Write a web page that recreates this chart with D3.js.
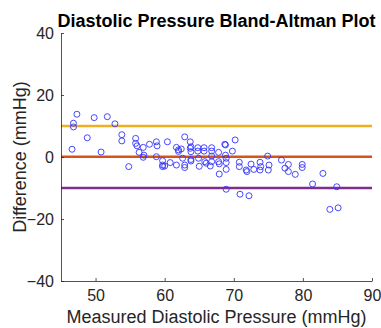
<!DOCTYPE html>
<html><head><meta charset="utf-8">
<script src="https://cdn.jsdelivr.net/npm/d3@7"></script>
<style>body{margin:0;background:#fff;}svg{display:block;font-family:"Liberation Sans",Arial,sans-serif;}</style>
</head><body>
<script>
const title = "Diastolic Pressure Bland-Altman Plot";
const xLabel = "Measured Diastolic Pressure (mmHg)";
const yLabel = "Difference (mmHg)";
const xTicks = [50, 60, 70, 80, 90];
const yTicks = [-40, -20, 0, 20, 40];
const measured = [46.6,46.8,46.8,47.3,48.8,49.8,50.8,51.7,52.8,53.8,53.8,54.8,55.8,55.8,56.0,56.9,56.3,57.0,56.9,57.8,58.8,58.9,58.8,59.7,59.7,59.7,60.4,60.8,61.7,61.7,62.0,62.0,62.4,62.9,62.9,62.9,62.6,63.7,63.7,63.8,63.8,63.8,63.8,64.8,64.8,64.9,65.7,65.7,66.8,66.8,66.8,65.8,66.8,67.8,67.8,67.9,68.8,68.8,68.9,68.9,68.9,68.9,69.8,70.2,70.8,70.8,71.8,71.9,72.5,72.9,73.8,73.9,73.8,70.9,72.2,74.9,76.9,75.1,75.0,77.4,77.9,77.9,78.9,79.9,79.9,82.9,81.4,84.9,83.9,85.1,68.7,60.0,66.0,66.6,67.9,65.0];
const difference = [2.5,10.9,9.7,13.8,6.2,12.7,1.6,13.0,10.7,7.2,5.2,-3.1,6.0,4.4,3.6,3.1,1.5,0.6,-0.1,4.1,4.9,3.6,0.1,-1.2,-2.6,-3.1,4.9,-1.8,3.1,-2.6,2.3,1.8,2.6,6.5,-2.6,-3.4,-0.4,4.9,2.8,-0.8,3.3,1.7,-1.3,3.0,1.9,-0.4,3.0,1.9,3.0,1.9,0.3,-1.5,-1.5,1.5,-1.5,-5.5,3.9,0.6,-0.4,-1.8,-4.0,-10.4,1.9,5.5,-1.7,-3.1,-4.2,-4.7,-2.3,-4.0,-1.7,-3.1,-4.2,-12.0,-12.5,0.3,-1.0,-2.6,-4.2,-3.6,-2.4,-4.7,-5.6,-2.4,-3.4,-5.3,-8.7,-9.6,-16.9,-16.4,4.1,-2.9,-2.0,-2.9,-2.2,-3.0];
const refLevels = [10, 0.1, -10];
const refColors = ["#EDB120", "#D95319", "#7E2F8E"];

const W = 381, H = 328;
const m = {l: 61, r: 9, t: 33, b: 47};
const svg = d3.select("body").append("svg").attr("width", W).attr("height", H);
const x = d3.scaleLinear().domain([45, 90]).range([m.l, W - m.r]);
const y = d3.scaleLinear().domain([-40, 40]).range([H - m.b, m.t]);

// reference lines
svg.append("g").selectAll("line").data(refLevels).join("line")
  .attr("x1", x(45)).attr("x2", x(90))
  .attr("y1", d => y(d)).attr("y2", d => y(d))
  .attr("stroke", (d, i) => refColors[i]).attr("stroke-width", 2.6);

// points
svg.append("g").selectAll("circle").data(measured).join("circle")
  .attr("cx", d => x(d)).attr("cy", (d, i) => y(difference[i]))
  .attr("r", 3).attr("fill", "none").attr("stroke", "#3333ff").attr("stroke-width", 0.9);

// axes
const xAxis = svg.append("g").attr("transform", `translate(0,${y(-40)})`)
  .call(d3.axisBottom(x).tickValues(xTicks).tickSizeInner(-3).tickSizeOuter(0).tickPadding(9));
const yAxis = svg.append("g").attr("transform", `translate(${x(45)},0)`)
  .call(d3.axisLeft(y).tickValues(yTicks).tickSizeInner(-3).tickSizeOuter(0).tickPadding(7));
[xAxis, yAxis].forEach(a => {
  a.select(".domain").attr("stroke", "#262626").attr("stroke-width", 0.8);
  a.selectAll(".tick line").attr("stroke", "#262626").attr("stroke-width", 0.8);
  a.selectAll(".tick text").attr("fill", "#262626").style("font-size", "16px")
    .style("font-family", '"Liberation Sans",Arial,sans-serif');
});

svg.append("text").attr("x", (m.l + W - m.r) / 2).attr("y", 26.5)
  .attr("text-anchor", "middle").style("font-size", "18px").style("font-weight", "bold")
  .attr("fill", "#000").text(title);
svg.append("text").attr("x", (m.l + W - m.r) / 2).attr("y", 323)
  .attr("text-anchor", "middle").style("font-size", "18px").attr("fill", "#262626").text(xLabel);
svg.append("text").attr("transform", `translate(26,${y(0)}) rotate(-90)`)
  .attr("text-anchor", "middle").style("font-size", "18px").attr("fill", "#262626").text(yLabel);
</script>
</body></html>
